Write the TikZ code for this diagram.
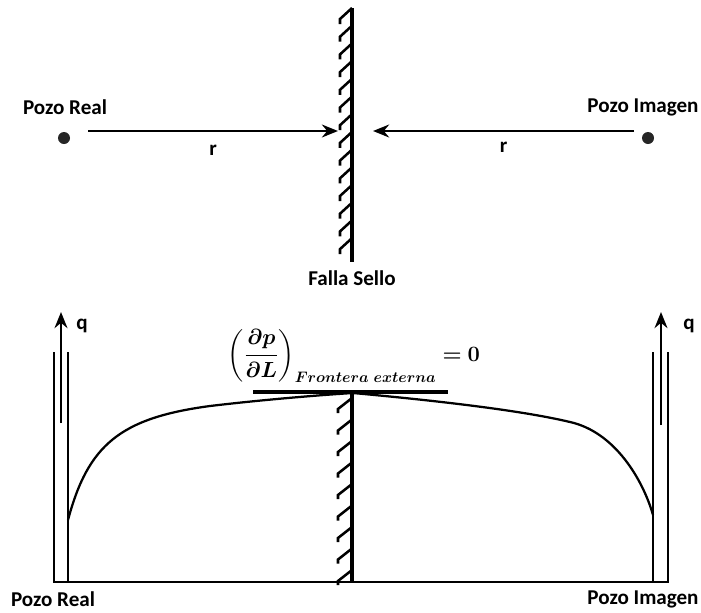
\documentclass[tikz,border=0pt]{standalone}
\usepackage{fontspec}
\setmainfont{Carlito}
\usepackage{amsmath,bm}
\usetikzlibrary{arrows.meta}

\begin{document}
\begin{tikzpicture}[
  x=0.025cm, y=-0.025cm,
  lbl/.style={font=\fontsize{15}{18}\selectfont\bfseries, inner sep=0pt},
  well/.style={circle, fill=black!85, inner sep=0pt, minimum size=0.3cm},
  arr/.style={-{Stealth[length=0.4cm, width=0.32cm]}, line width=2pt},
  wall/.style={line width=2.4pt},
  hatch/.style={line width=1.8pt},
  pipe/.style={line width=2pt},
  curve/.style={line width=1.6pt}
]
\useasboundingbox (0,0) rectangle (701,612);

% plano superior: pozo real, falla y pozo imagen
\node[well] (realdot) at (64,138) {};
\node[well] (imagendot) at (648,138) {};
\node[lbl] (reallbl) at (65,107) {Pozo Real};
\node[lbl] (imagenlbl) at (643,107) {Pozo Imagen};

\draw[wall] (352,8) coordinate (fallatop) -- (352,262) coordinate (fallabot);
\foreach \y in {8,25.7,...,250}
  \draw[hatch] (352,\y) -- (340,\y+11) -- (340,\y+16);
\node[lbl, below=6pt] (falla) at (fallabot) {Falla Sello};

\coordinate (a1) at (88,131);
\coordinate (a2) at (338,131);
\coordinate (b1) at (634,131);
\coordinate (b2) at (373,131);
\draw[arr] (a1) -- node[lbl, below=9pt] (r1) {r} (a2);
\draw[arr] (b1) -- node[lbl, below=7pt] (r2) {r} (b2);

% perfil de presion
\coordinate (base0) at (54,582);
\coordinate (base1) at (668,582);
\draw[pipe] (54,352) -- (base0) -- (base1) -- (668,352);
\draw[pipe] (68,352) -- (68,582);
\draw[pipe] (653,352) -- (653,582);

\coordinate (q1a) at (61,423);
\coordinate (q1b) at (61,312);
\coordinate (q2a) at (661,425);
\coordinate (q2b) at (661,312);
\draw[arr] (q1a) -- (q1b);
\draw[arr] (q2a) -- (q2b);
\node[lbl] (q1) at (82,326) {q};
\node[lbl] (q2) at (689,326) {q};

\draw[wall] (352,393) -- (352,582);
\foreach \y in {398,419.5,...,570}
  \draw[hatch] (352,\y) -- (338,\y+11) -- (338,\y+15);

\draw[curve] (68,520) .. controls (88,445) and (120,418) .. (210,406)
  .. controls (260,400) and (320,395) .. (353,393);
\draw[curve] (353,393) .. controls (430,400) and (520,410) .. (570,422)
  .. controls (615,432) and (643,480) .. (653,515);

\draw[line width=2.4pt] (253,392) -- (448,392);
\node[inner sep=0pt, scale=0.9] (grad) at (354,356)
  {\LARGE$\bm{\left(\dfrac{\partial p}{\partial L}\right)_{Frontera\ externa} = 0}$};

\node[lbl] (reallbl2) at (53,599) {Pozo Real};
\node[lbl] (imagenlbl2) at (643,599) {Pozo Imagen};
\end{tikzpicture}
\end{document}
